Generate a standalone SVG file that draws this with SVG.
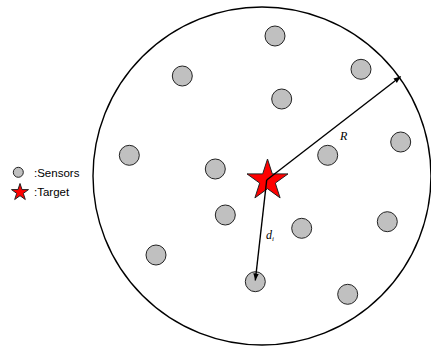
<svg xmlns="http://www.w3.org/2000/svg" width="431" height="349" viewBox="0 0 431 349">
<style>
.sensor{fill:#c0c0c0;stroke:#222;stroke-width:1}
.star{fill:#ff0000;stroke:#222;stroke-width:1}
.lbl{font-family:"Liberation Sans",Arial,sans-serif;font-size:11.5px;fill:#000}
.math{font-family:"Liberation Serif","Times New Roman",serif;font-style:italic;fill:#000}
.conn{stroke:#000;stroke-width:1.4;fill:none;marker-end:url(#ah)}
</style>
<defs>
<marker id="ah" viewBox="0 0 10 10" refX="10" refY="5" markerWidth="7" markerHeight="7" markerUnits="userSpaceOnUse" orient="auto">
<path d="M0,1 L10,5 L0,9 Z" fill="#000"/>
</marker>
</defs>
<rect width="431" height="349" fill="#fff"/>
<g id="region">
<circle cx="262" cy="176" r="169" fill="none" stroke="#000" stroke-width="1.4"/>
</g>
<g id="sensors">
<circle id="s1" class="sensor" cx="275" cy="36" r="10"/>
<circle id="s2" class="sensor" cx="182.3" cy="76" r="10"/>
<circle id="s3" class="sensor" cx="361" cy="69.3" r="10"/>
<circle id="s4" class="sensor" cx="281.7" cy="99" r="10"/>
<circle id="s5" class="sensor" cx="129.3" cy="155.3" r="10"/>
<circle id="s6" class="sensor" cx="215.3" cy="169" r="10"/>
<circle id="s7" class="sensor" cx="327.7" cy="155.3" r="10"/>
<circle id="s8" class="sensor" cx="400.7" cy="142" r="10"/>
<circle id="s9" class="sensor" cx="225.3" cy="215" r="10"/>
<circle id="s10" class="sensor" cx="301.7" cy="228.3" r="10"/>
<circle id="s11" class="sensor" cx="387.3" cy="221.7" r="10"/>
<circle id="s12" class="sensor" cx="156" cy="255" r="10"/>
<circle id="s13" class="sensor" cx="255.3" cy="281.7" r="10"/>
<circle id="s14" class="sensor" cx="347.7" cy="294.3" r="10"/>
</g>
<g id="target">
<polygon class="star" points="267.5,159 272.3,173.9 288,173.9 275.3,183.1 280.1,197.9 267.5,188.7 254.9,197.9 259.7,183.1 247,173.9 262.7,173.9"/>
</g>
<g id="connectors">
<line class="conn" x1="266.7" y1="180" x2="400.7" y2="76.5"/>
<line class="conn" x1="266.7" y1="180" x2="255.3" y2="280.5"/>
</g>
<g id="labels">
<text class="math" x="340" y="140" font-size="12">R</text>
<text class="math" x="266" y="239" font-size="12">d<tspan font-size="7" dy="2">i</tspan></text>
</g>
<g id="legend">
<circle class="sensor" cx="18.3" cy="172.3" r="5"/>
<text class="lbl" x="34" y="176.5">:Sensors</text>
<polygon class="star" points="20,183.5 22,189.6 28.5,189.6 23.3,193.4 25.3,199.5 20,195.7 14.7,199.5 16.7,193.4 11.5,189.6 18,189.6"/>
<text class="lbl" x="34" y="195.5">:Target</text>
</g>
</svg>
